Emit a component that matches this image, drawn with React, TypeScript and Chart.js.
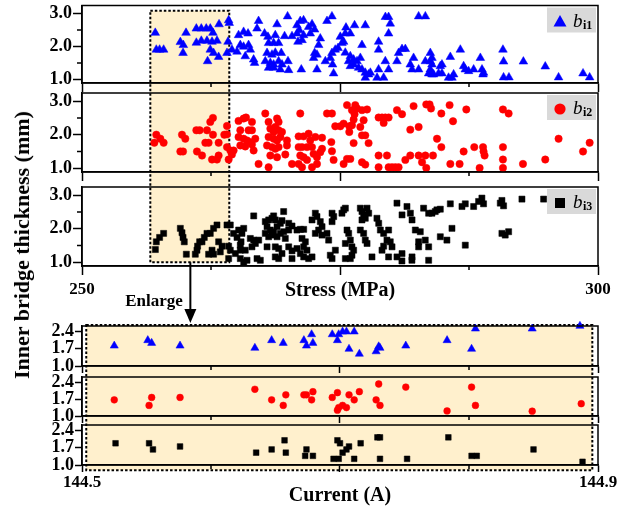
import React, { useEffect, useRef } from 'react';
import { Chart, registerables } from 'chart.js';

Chart.register(...registerables);

const SERIF = '"Liberation Serif", "Times New Roman", Times, serif';
const W = 618;
const H = 509;

// ---------------- data: upper panels (Stress, MPa  vs  thickness, mm) ----------------
const b1Points: number[][] = [
  [257.10,2.41],[257.20,1.90],[257.52,1.90],[257.91,1.90],
  [259.53,2.13],[259.82,2.04],[259.79,1.80],[260.08,2.41],
  [261.08,2.54],[261.56,2.54],[262.04,2.54],[262.43,2.54],
  [261.08,2.11],[261.56,2.17],[262.11,2.17],[262.60,2.14],[263.08,2.17],
  [262.69,2.41],[262.43,1.90],[262.75,1.80],[262.17,1.55],[263.24,1.68],[263.28,2.67],
  [264.21,2.79],[264.15,2.14],[264.05,1.80],
  [264.27,2.71],[265.17,2.34],[265.66,2.44],[266.09,2.39],[267.11,2.77],[266.96,2.54],
  [264.53,1.90],[265.02,1.84],[265.34,2.04],[265.66,1.99],[266.14,2.04],[266.31,1.90],
  [265.82,1.70],[266.63,1.60],[266.72,1.50],
  [267.69,2.39],[268.02,2.29],[268.73,2.34],[268.90,2.67],[269.92,2.91],
  [268.08,2.10],[268.57,2.10],[269.05,2.10],
  [267.93,1.80],[268.41,1.75],[268.73,1.81],[269.31,1.80],
  [267.76,1.55],[268.25,1.50],[268.57,1.45],[269.05,1.55],[269.38,1.45],[269.96,1.55],
  [268.08,1.35],[268.57,1.35],[269.22,1.30],[270.02,1.28],
  [269.63,2.31],[270.35,2.31],[270.83,2.39],[270.83,2.64],[271.15,2.77],[271.47,2.79],[271.06,2.49],
  [270.93,2.14],[271.32,2.19],[271.47,2.34],[271.96,2.59],[272.29,2.67],[272.54,2.51],[272.12,2.39],
  [271.25,1.30],[272.54,1.80],[272.44,1.65],[272.77,1.75],[272.77,1.30],
  [273.09,2.24],[272.93,2.04],[273.74,2.77],[274.22,2.91],
  [273.58,1.55],[274.06,1.65],[274.28,1.45],[274.38,1.18],
  [274.22,1.80],[274.54,1.90],[274.81,1.95],
  [275.03,2.29],[275.35,2.14],[275.19,2.10],[275.51,2.39],[275.58,2.57],[276.00,2.39],[276.41,2.64],[277.45,2.64],
  [275.51,1.81],[276.00,1.70],[275.83,1.55],[276.32,1.60],[276.65,1.55],[276.97,1.65],
  [276.00,1.40],[276.32,1.45],[276.80,1.35],[277.13,1.30],[277.45,1.20],[277.77,1.15],[277.94,1.20],[277.45,1.05],
  [277.13,2.04],[278.74,2.14],[278.74,1.90],[279.71,2.39],[279.71,2.89],[279.40,2.89],[279.87,2.69],
  [278.59,1.05],[279.23,1.05],[278.74,1.30],[279.39,1.55],[279.71,1.30],
  [280.68,1.80],[281.01,1.92],[281.33,1.92],[280.52,1.55],
  [281.81,1.45],[281.98,1.30],[282.62,1.30],[282.13,1.65],[282.62,2.91],[283.27,2.91],
  [283.75,1.80],[283.91,1.65],[283.75,1.55],[283.91,1.45],[283.75,1.30],[283.91,1.15],[284.07,1.15],
  [283.27,1.55],[283.59,1.18],[284.55,1.18],[284.88,1.18],[284.72,1.40],[284.88,1.45],
  [285.69,1.68],[286.01,1.15],[285.85,1.05],[285.52,1.05],[286.66,1.90],
  [286.98,1.40],[287.14,1.30],[287.46,1.25],[287.95,1.30],[288.76,1.30],[288.91,1.20],[288.86,1.15],[288.60,1.65],
  [290.79,1.90],[290.85,1.54],[290.85,1.06],[291.37,1.06],[292.77,1.54],[294.89,1.39],[296.18,1.06],[298.55,1.18],[299.19,1.06],
];

const b2Points: number[][] = [
  [257.01,1.76],[257.20,2.00],[257.59,1.88],[257.91,1.76],
  [259.69,2.00],[260.01,1.88],[259.53,1.50],[259.79,1.50],
  [261.08,2.13],[261.40,2.13],[261.14,1.50],[261.63,1.38],
  [261.95,1.76],[262.27,1.76],[262.11,2.13],[262.43,2.38],[262.69,2.50],[262.69,2.00],
  [262.60,1.26],[263.24,1.38],[263.08,1.26],[263.24,1.76],
  [263.79,2.00],[264.05,2.26],[264.05,1.63],[264.37,1.53],[264.21,1.26],
  [264.05,2.01],[264.69,1.53],[264.53,1.41],
  [265.17,2.41],[265.66,2.48],[265.89,2.51],[265.34,2.13],[266.14,2.13],[266.47,2.13],[266.47,2.38],
  [265.17,1.93],[265.66,1.88],[265.99,1.83],[266.31,1.78],[266.79,1.88],
  [265.34,1.68],[265.82,1.65],[266.47,1.71],[266.63,1.53],[267.11,1.13],
  [267.76,2.63],[268.08,2.38],[268.25,2.18],[268.90,2.48],[269.05,2.38],[268.73,2.23],[269.05,2.13],[268.57,2.08],[269.38,2.08],
  [268.08,1.93],[268.57,1.88],[268.90,1.83],[269.22,1.93],
  [267.93,1.68],[268.41,1.63],[268.73,1.58],[269.05,1.63],[269.86,1.68],
  [268.25,1.38],[268.90,1.33],[268.08,1.03],[269.70,1.41],[269.86,1.83],
  [271.15,2.63],[270.99,1.95],[271.47,1.95],[271.96,2.03],
  [270.99,1.63],[271.32,1.63],[271.80,1.63],[272.29,1.63],[272.12,1.83],[272.61,1.93],[273.26,1.91],
  [271.15,1.38],[271.47,1.33],[271.80,1.25],[272.44,1.43],[272.77,1.33],[273.09,1.48],[273.26,1.58],
  [271.32,1.03],[272.29,1.03],[272.77,1.13],[270.35,1.13],[270.99,1.13],
  [274.22,1.51],[274.16,1.78],[273.74,2.63],[274.22,2.63],[274.38,1.25],
  [274.54,2.25],[275.03,2.25],[275.35,2.33],[275.68,2.88],[276.16,2.73],[276.48,2.88],[276.65,2.78],[276.41,2.61],[276.32,2.45],
  [275.90,2.25],[275.90,2.08],[276.16,2.28],[277.13,2.73],[277.29,2.43],[277.62,2.75],[276.97,2.23],[277.13,1.98],[277.45,1.98],[277.77,1.75],[276.32,1.75],
  [275.35,1.13],[275.68,1.28],[276.00,1.28],[277.13,1.18],[277.45,1.11],
  [278.74,2.51],[279.07,2.51],[279.39,2.51],[279.71,2.51],[279.23,2.35],
  [280.52,2.73],[281.01,2.61],[282.13,2.85],[281.81,2.15],[282.62,2.23],
  [278.74,1.38],[279.55,1.38],[278.74,1.03],[279.71,1.03],[280.04,1.03],[280.36,1.03],[280.68,1.03],
  [281.33,1.25],[281.81,1.38],[282.62,1.38],[282.95,1.18],
  [283.36,2.90],[283.68,2.90],[283.82,2.78],[284.82,2.63],[285.62,2.88],[285.95,2.40],[287.24,2.75],[290.79,2.75],[291.34,2.63],
  [284.40,1.88],[284.82,1.63],[284.01,1.38],[283.27,1.38],[283.36,1.01],
  [285.69,1.13],[286.59,1.13],[286.98,1.50],[288.01,1.63],[288.86,1.63],[288.91,1.50],[289.01,1.38],[288.53,1.01],
  [290.79,1.63],[290.79,1.26],[290.79,1.01],[292.73,1.13],[294.89,1.26],[296.18,1.88],[298.55,1.50],[299.19,1.76],
];

const b3Points: number[][] = [
  [257.11,1.38],[257.20,1.61],[257.52,1.74],[257.91,1.86],
  [259.53,2.01],[259.69,1.88],[259.79,1.74],[259.91,1.61],[260.11,1.24],
  [260.98,1.24],[261.20,1.48],[261.40,1.61],[261.14,1.36],[261.63,1.61],[261.85,1.74],
  [262.11,1.86],[262.43,1.86],[262.75,2.01],[263.08,2.11],
  [262.27,1.24],[262.60,1.36],[262.75,1.24],[263.24,1.61],[263.57,1.48],[263.40,1.31],
  [264.05,2.11],[264.37,2.11],[264.21,1.48],[264.37,1.36],[264.21,1.11],
  [264.69,1.86],[265.02,1.74],[265.41,1.61],[265.34,1.36],[265.82,1.36],[265.99,1.06],
  [265.18,1.96],[265.67,2.01],[265.50,1.86],[265.34,1.51],[264.86,1.26],[265.34,1.11],[265.67,1.01],
  [266.31,1.71],[266.64,1.66],[266.47,1.46],[266.80,1.56],[267.12,1.66],[266.96,1.11],[267.28,1.06],[266.64,2.38],
  [267.76,2.21],[268.09,2.26],[268.41,2.31],[268.57,2.38],[268.73,2.26],[267.93,2.06],[268.25,1.96],[268.57,1.91],
  [268.90,2.06],[269.22,2.16],[269.38,2.24],[269.54,2.51],[270.03,2.16],[270.35,2.08],
  [267.76,1.86],[268.09,1.76],[268.41,1.81],[268.90,1.76],[269.22,1.86],[269.54,1.91],[269.70,1.71],
  [267.93,1.46],[268.73,1.46],[269.06,1.41],[269.38,1.26],[269.06,1.11],[268.73,1.16],
  [270.03,1.46],[270.35,1.34],[270.83,1.41],[271.16,1.26],[271.80,1.36],
  [270.03,1.96],[270.83,1.96],[271.16,1.98],[271.48,1.98],[271.32,1.71],[271.64,1.61],[271.48,1.46],
  [271.48,1.16],[271.96,1.11],[270.35,1.11],
  [272.29,2.26],[272.61,2.46],[272.77,2.36],[273.09,2.21],[272.93,1.96],[272.61,1.86],[273.26,1.81],[273.26,2.06],[272.29,1.16],
  [273.74,1.86],[273.90,1.66],[274.06,1.21],[274.23,1.11],[274.55,1.36],
  [274.23,2.46],[274.39,2.36],[274.23,2.21],
  [275.19,2.46],[275.36,2.56],[275.52,2.61],
  [275.68,1.96],[275.84,1.86],[276.00,1.66],[275.52,1.56],[276.16,1.46],[276.32,1.36],[276.16,1.21],[276.00,1.11],[275.52,1.11],
  [276.97,2.61],[277.13,2.51],[277.29,2.41],[277.62,2.61],[277.78,2.46],[277.45,2.31],[277.13,2.26],
  [276.97,1.96],[277.29,1.86],[277.45,1.66],[277.62,1.56],[278.10,1.16],
  [278.58,2.31],[278.75,2.16],[278.91,1.96],[279.23,1.86],[279.71,1.96],[279.55,1.66],[279.87,1.61],[280.04,1.46],[279.23,1.48],[279.07,1.36],
  [280.52,2.76],[281.01,2.41],[281.49,2.66],[281.82,2.46],[281.98,2.26],[282.30,1.96],[282.62,1.46],[282.78,1.91],
  [279.71,1.16],[280.52,1.16],[281.01,1.26],[281.98,1.16],
  [283.10,2.61],[282.62,1.61],[283.26,1.66],[283.59,1.46],[283.59,1.06],[281.97,1.06],[281.00,1.04],
  [283.59,2.46],[283.91,2.46],[284.23,2.51],[284.39,2.56],[284.72,2.58],[284.72,1.76],[285.36,1.66],
  [285.69,2.74],[285.85,2.01],[286.82,2.66],[287.14,2.74],[287.14,1.51],[287.95,2.66],
  [288.43,2.81],[288.75,2.91],[288.91,2.74],
  [290.53,2.76],[290.69,2.84],[290.85,2.68],[292.63,2.88],[294.73,2.88],
  [290.69,1.86],[291.01,1.81],[291.34,1.91],
];

// ---------------- data: lower (enlarged) panels (Current, A  vs  thickness, mm) ----------------
const c1Points: number[][] = [
  [144.525,1.82],[144.551,2.04],[144.554,1.93],[144.576,1.82],[144.634,1.73],[144.647,2.04],[144.656,1.93],
  [144.672,2.04],[144.674,1.82],[144.678,2.28],[144.679,1.93],[144.694,2.28],[144.698,2.04],[144.699,2.28],
  [144.702,2.39],[144.705,2.39],[144.711,2.39],[144.707,1.69],[144.715,1.49],[144.728,1.59],[144.730,1.79],
  [144.731,1.73],[144.751,1.82],[144.783,2.04],[144.802,1.69],[144.805,2.51],[144.849,2.51],[144.886,2.62],
];
const c2Points: number[][] = [
  [144.525,1.67],[144.552,1.44],[144.554,1.77],[144.576,1.77],[144.634,2.11],[144.647,1.67],[144.656,1.44],
  [144.658,1.88],[144.672,1.88],[144.674,1.88],[144.678,1.67],[144.679,2.01],[144.694,1.77],[144.698,1.97],
  [144.699,1.35],[144.702,1.44],[144.705,1.35],[144.698,1.24],[144.707,1.88],[144.711,1.67],[144.715,2.01],
  [144.728,1.67],[144.731,1.44],[144.730,2.33],[144.751,2.20],[144.783,1.21],[144.802,2.20],[144.805,1.44],
  [144.849,1.20],[144.887,1.51],
];
const c3Points: number[][] = [
  [144.526,1.88],[144.552,1.88],[144.555,1.63],[144.576,1.75],[144.635,1.50],[144.647,1.63],[144.657,2.00],
  [144.658,1.50],[144.673,1.37],[144.674,1.63],[144.679,1.37],[144.695,1.25],[144.699,1.25],[144.698,2.00],
  [144.700,1.88],[144.702,1.50],[144.705,1.63],[144.707,1.75],[144.711,1.25],[144.716,1.88],[144.729,2.12],
  [144.731,2.12],[144.731,1.25],[144.752,1.25],[144.784,2.12],[144.802,1.37],[144.806,1.37],[144.850,1.63],
  [144.888,1.13],
];

// ---------------- ticks / ranges ----------------
const stressTicks = [250, 262.5, 275, 287.5, 300];
const stressMajor = [250, 275, 300];
const stressLabels = [250, 300];
const currentTicks = [144.5, 144.6, 144.7, 144.8, 144.9];
const currentMajor = [144.5, 144.7, 144.9];
const currentLabels = [144.5, 144.9];
const thickTicksUpper = [1.0, 1.5, 2.0, 2.5, 3.0];
const thickMajorUpper = [1.0, 2.0, 3.0];
const thickTicksLower = [1.0, 1.7, 2.4];
const stressRange = [250, 300];
const currentRange = [144.5, 144.9];
const thickRangeUpper = [0.89, 3.24];
const thickRangeLower = [1.0, 2.62];

// annotation (zoom window) values
const zoomStress = [256.62, 264.27];
const zoomThickTop = 3.08;
const zoomThickBottom = 1.0;
const arrowStress = 260.5;
const enlargeCurrent = [144.5033, 144.8956];
const enlargeThickTop = 2.66;
const enlargeThickBottom = 0.79;

const ORANGE = '#fff0cd';
const near = (a: number, b: number) => Math.abs(a - b) < 1e-6;

type Panel = {
  id: string; top: number; bottom: number;
  xRange: number[]; xTicks: number[]; xMajor: number[]; xLabels: number[] | null;
  xTitle?: string; xAxisH: number; xTickLen: number; xTickPad: number; xFmt: (v: number) => string;
  yRange: number[]; yTicks: number[]; yMajor: number[]; yTickLen: number;
  data: number[][]; color: string; pointStyle: string; radius: number; legend?: string;
};

const upperCommon = {
  xRange: stressRange, xTicks: stressTicks, xMajor: stressMajor, xTickLen: 9,
  yRange: thickRangeUpper, yTicks: thickTicksUpper, yMajor: thickMajorUpper, yTickLen: 9,
  xFmt: (v: number) => String(v),
};
const lowerCommon = {
  xRange: currentRange, xTicks: currentTicks, xMajor: currentMajor, xTickLen: 7,
  yRange: thickRangeLower, yTicks: thickTicksLower, yMajor: thickTicksLower, yTickLen: 7,
  xFmt: (v: number) => v.toFixed(1),
};

const PANELS: Panel[] = [
  { ...upperCommon, id: 'p1', top: 5, bottom: 83, xLabels: null, xAxisH: 9, xTickPad: 0,
    data: b1Points, color: '#0000ff', pointStyle: 'triangle', radius: 5.0, legend: 'i1' },
  { ...upperCommon, id: 'p2', top: 93, bottom: 172, xLabels: null, xAxisH: 9, xTickPad: 0,
    data: b2Points, color: '#ff0000', pointStyle: 'circle', radius: 3.7, legend: 'i2' },
  { ...upperCommon, id: 'p3', top: 187, bottom: 266, xLabels: stressLabels, xTitle: 'Stress (MPa)', xAxisH: 37, xTickPad: 4,
    data: b3Points, color: '#000000', pointStyle: 'rect', radius: 4.3, legend: 'i3' },
  { ...lowerCommon, id: 'p4', top: 326, bottom: 366, xLabels: null, xAxisH: 7, xTickPad: 0,
    data: c1Points, color: '#0000ff', pointStyle: 'triangle', radius: 4.7 },
  { ...lowerCommon, id: 'p5', top: 377, bottom: 416, xLabels: null, xAxisH: 7, xTickPad: 0,
    data: c2Points, color: '#ff0000', pointStyle: 'circle', radius: 3.4 },
  { ...lowerCommon, id: 'p6', top: 425, bottom: 465, xLabels: currentLabels, xTitle: 'Current (A)', xAxisH: 43, xTickPad: 0,
    data: c3Points, color: '#000000', pointStyle: 'rect', radius: 4.0 },
];

function drawLegendMarker(ctx: CanvasRenderingContext2D, style: string, x: number, y: number) {
  ctx.beginPath();
  if (style === 'triangle') {
    ctx.moveTo(x, y - 6.5);
    ctx.lineTo(x + 6.5, y + 5);
    ctx.lineTo(x - 6.5, y + 5);
    ctx.closePath();
    ctx.fill();
  } else if (style === 'circle') {
    ctx.arc(x, y, 5.6, 0, Math.PI * 2);
    ctx.fill();
  } else {
    ctx.fillRect(x - 5, y - 5, 10, 10);
  }
}

function framePlugin(p: Panel) {
  return {
    id: 'frame_' + p.id,
    afterDraw(chart: any) {
      const { ctx, chartArea: a, scales } = chart;
      ctx.save();
      ctx.strokeStyle = '#000';
      ctx.lineWidth = 1.5;
      ctx.strokeRect(a.left, a.top, a.right - a.left, a.bottom - a.top);
      // minor ticks
      ctx.beginPath();
      p.xTicks.filter(v => !p.xMajor.some(m => near(m, v))).forEach(v => {
        const x = scales.x.getPixelForValue(v);
        ctx.moveTo(x, a.bottom);
        ctx.lineTo(x, a.bottom + 4);
      });
      p.yTicks.filter(v => !p.yMajor.some(m => near(m, v))).forEach(v => {
        const y = scales.y.getPixelForValue(v);
        ctx.moveTo(a.left - 5, y);
        ctx.lineTo(a.left, y);
      });
      ctx.stroke();
      // legend box
      if (p.legend) {
        const bw = 49, bh = 25;
        const bx = a.right - bw - 2, by = a.top + 2;
        ctx.fillStyle = '#d9d9d9';
        ctx.fillRect(bx, by, bw, bh);
        ctx.fillStyle = p.color;
        drawLegendMarker(ctx, p.pointStyle, bx + 13, by + 14);
        ctx.fillStyle = '#000';
        ctx.textAlign = 'left';
        ctx.textBaseline = 'alphabetic';
        ctx.font = `italic 19px ${SERIF}`;
        ctx.fillText('b', bx + 26, by + 19);
        const bW = ctx.measureText('b').width;
        ctx.font = `bold 12px ${SERIF}`;
        ctx.fillText(p.legend, bx + 26 + bW + 0.5, by + 21);
      }
      ctx.restore();
    },
  };
}

function makeConfig(p: Panel): any {
  const tickFont = { family: SERIF, size: 18, weight: 'bold' as const };
  return {
    type: 'scatter',
    data: {
      datasets: [{
        data: p.data.map(([x, y]) => ({ x, y })),
        pointStyle: p.pointStyle,
        pointRadius: p.radius,
        pointHoverRadius: p.radius,
        backgroundColor: p.color,
        borderColor: p.color,
        borderWidth: 0.5,
        clip: false,
      }],
    },
    options: {
      responsive: false,
      animation: false,
      devicePixelRatio: 1,
      events: [],
      layout: { padding: { left: 0, right: W - 598, top: p.top, bottom: H - p.bottom - p.xAxisH } },
      plugins: { legend: { display: false }, tooltip: { enabled: false } },
      scales: {
        x: {
          type: 'linear',
          min: p.xRange[0],
          max: p.xRange[1],
          afterBuildTicks: (s: any) => { s.ticks = p.xTicks.map(v => ({ value: v })); },
          afterFit: (s: any) => {
            s.height = p.xAxisH;
            s.paddingLeft = 0; s.paddingRight = 0; s.paddingTop = 0; s.paddingBottom = 0;
          },
          ticks: {
            display: !!p.xLabels,
            autoSkip: false,
            maxRotation: 0,
            padding: p.xTickPad,
            color: '#000',
            font: { family: SERIF, size: 17, weight: 'bold' },
            callback: (v: number) => (p.xLabels && p.xLabels.some(l => near(l, v)) ? p.xFmt(v) : ''),
          },
          grid: {
            drawOnChartArea: false,
            drawTicks: true,
            tickLength: p.xTickLen,
            tickWidth: 1.5,
            tickColor: (c: any) => (c.tick && p.xMajor.some(m => near(m, c.tick.value)) ? '#000' : 'rgba(0,0,0,0)'),
          },
          border: { display: true, color: '#000', width: 1.5 },
          title: p.xTitle
            ? { display: true, text: p.xTitle, color: '#000', font: { family: SERIF, size: 20, weight: 'bold' }, padding: 0 }
            : { display: false },
        },
        y: {
          type: 'linear',
          min: p.yRange[0],
          max: p.yRange[1],
          afterBuildTicks: (s: any) => { s.ticks = p.yTicks.map(v => ({ value: v })); },
          afterFit: (s: any) => {
            s.width = 82;
            s.paddingLeft = 0; s.paddingRight = 0; s.paddingTop = 0; s.paddingBottom = 0;
          },
          ticks: {
            autoSkip: false,
            padding: 1,
            color: '#000',
            font: tickFont,
            callback: (v: number) => (p.yMajor.some(m => near(m, v)) ? v.toFixed(1) : ''),
          },
          grid: {
            drawOnChartArea: false,
            drawTicks: true,
            tickLength: p.yTickLen,
            tickWidth: 1.5,
            tickColor: (c: any) => (c.tick && p.yMajor.some(m => near(m, c.tick.value)) ? '#000' : 'rgba(0,0,0,0)'),
          },
          border: { display: true, color: '#000', width: 1.5 },
        },
      },
    },
    plugins: [framePlugin(p)],
  };
}

function dashedBox(ctx: CanvasRenderingContext2D, l: number, t: number, r: number, b: number) {
  ctx.fillStyle = ORANGE;
  ctx.fillRect(l, t, r - l, b - t);
  ctx.save();
  ctx.setLineDash([2.5, 2]);
  ctx.lineWidth = 2;
  ctx.strokeStyle = '#000';
  ctx.strokeRect(l, t, r - l, b - t);
  ctx.restore();
}

export default function App() {
  const bgRef = useRef<HTMLCanvasElement | null>(null);
  const canvases = useRef<(HTMLCanvasElement | null)[]>([]);

  useEffect(() => {
    const charts = PANELS.map((p, i) => new Chart(canvases.current[i] as HTMLCanvasElement, makeConfig(p)));
    const [c1, , c3, c4, , c6] = charts as any[];
    const bg = bgRef.current as HTMLCanvasElement;
    const ctx = bg.getContext('2d') as CanvasRenderingContext2D;
    ctx.clearRect(0, 0, W, H);

    // upper zoom window
    const tl = c1.scales.x.getPixelForValue(zoomStress[0]);
    const tr = c1.scales.x.getPixelForValue(zoomStress[1]);
    const tt = c1.scales.y.getPixelForValue(zoomThickTop);
    const tb = c3.scales.y.getPixelForValue(zoomThickBottom);
    dashedBox(ctx, tl, tt, tr, tb);

    // lower enlarged window
    const bl = c4.scales.x.getPixelForValue(enlargeCurrent[0]);
    const br = c4.scales.x.getPixelForValue(enlargeCurrent[1]);
    const bt = c4.scales.y.getPixelForValue(enlargeThickTop);
    const bb = c6.scales.y.getPixelForValue(enlargeThickBottom);
    dashedBox(ctx, bl, bt, br, bb);

    // arrow
    const ax = c3.scales.x.getPixelForValue(arrowStress);
    const tip = bt - 2;
    ctx.strokeStyle = '#000';
    ctx.lineWidth = 2;
    ctx.beginPath();
    ctx.moveTo(ax, tb);
    ctx.lineTo(ax, tip - 12);
    ctx.stroke();
    ctx.fillStyle = '#000';
    ctx.beginPath();
    ctx.moveTo(ax - 6, tip - 14);
    ctx.lineTo(ax + 6, tip - 14);
    ctx.lineTo(ax, tip);
    ctx.closePath();
    ctx.fill();

    return () => charts.forEach(c => c.destroy());
  }, []);

  return (
    <div style={{ position: 'absolute', left: 0, top: 0, width: W, height: H, overflow: 'hidden', background: '#fff' }}>
      <canvas ref={bgRef} width={W} height={H} style={{ position: 'absolute', left: 0, top: 0 }} />
      {PANELS.map((p, i) => (
        <canvas
          key={p.id}
          ref={el => { canvases.current[i] = el; }}
          width={W}
          height={H}
          style={{ position: 'absolute', left: 0, top: 0 }}
        />
      ))}
      <div
        style={{
          position: 'absolute', left: 22, top: 245,
          transform: 'translate(-50%, -50%) rotate(-90deg)',
          whiteSpace: 'nowrap', fontFamily: SERIF, fontWeight: 'bold', fontSize: 22, lineHeight: '22px', color: '#000',
        }}
      >
        Inner bridge thickness (mm)
      </div>
      <div
        style={{
          position: 'absolute', left: 154, top: 300,
          transform: 'translate(-50%, -50%)',
          whiteSpace: 'nowrap', fontFamily: SERIF, fontWeight: 'bold', fontSize: 17, lineHeight: '17px', color: '#000',
        }}
      >
        Enlarge
      </div>
    </div>
  );
}
